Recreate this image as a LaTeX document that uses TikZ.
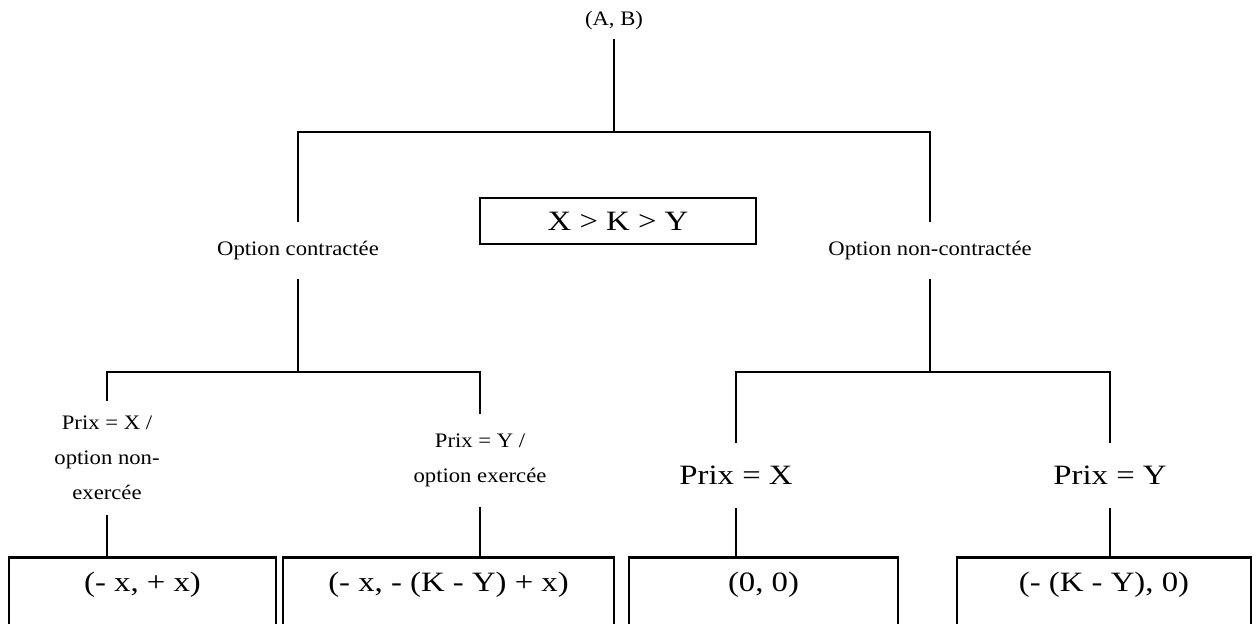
\documentclass[tikz,border=0pt]{standalone}
\usepackage{fontspec}
\setmainfont{Liberation Serif}
\newfontfamily\labelfont[FakeStretch=1.1]{Liberation Serif}
\newfontfamily\bigfont[FakeStretch=1.17]{Liberation Serif}
\begin{document}
\begin{tikzpicture}[x=0.5pt,y=-0.5pt,
  branch/.style={line width=1pt},
  lbl/.style={inner sep=0pt, font=\labelfont\fontsize{10.3}{17.5}\selectfont, align=center},
  biglbl/.style={inner sep=0pt, font=\bigfont\fontsize{14}{16}\selectfont},
  condbox/.style={draw, line width=1.2pt, inner sep=0pt, minimum width=138pt, minimum height=23pt,
    font=\bigfont\fontsize{14}{16}\selectfont},
  payoff/.style={draw, line width=1.3pt, anchor=north, inner xsep=0pt, inner ysep=0pt,
    text height=17pt, text depth=40pt, font=\bigfont\fontsize{14}{16}\selectfont},
]
\useasboundingbox (0,0) rectangle (1256,623);

% labels of the tree
\node[lbl, minimum height=18pt] (ab) at (614,21) {(A, B)};
\node[lbl, minimum height=28.5pt] (oc) at (298,250.5) {Option contractée};
\node[lbl, minimum height=28.5pt] (onc) at (930,250.5) {Option non-contractée};
\node[condbox] (cond) at (618,221) {X > K > Y};
\node[lbl, minimum height=57pt] (p1) at (107,458) {Prix = X /\\option non-\\exercée};
\node[lbl, minimum height=46.5pt] (p2) at (480,460.5) {Prix = Y /\\option exercée};
\node[biglbl, minimum height=32.5pt] (p3) at (736,475.5) {Prix = X};
\node[biglbl, minimum height=32.5pt] (p4) at (1110,475.5) {Prix = Y};

% payoff boxes, open at the bottom edge
\node[payoff, minimum width=133.5pt] (b1) at (142.5,556) {(- x, + x)};
\node[payoff, minimum width=165.5pt] (b2) at (448.5,556) {(- x, - (K - Y) + x)};
\node[payoff, minimum width=134.5pt] (b3) at (763.5,556) {(0, 0)};
\node[payoff, minimum width=147pt] (b4) at (1104,556) {(- (K - Y), 0)};

% junctions
\coordinate (top) at (614,132);
\coordinate (lj) at (298,372);
\coordinate (rj) at (930,372);

% branches
\draw[branch] (ab.south) -- (top);
\draw[branch] (oc.north) |- (top) -| (onc.north);
\draw[branch] (oc.south) -- (lj);
\draw[branch] (p1.north) |- (lj) -| (p2.north);
\draw[branch] (onc.south) -- (rj);
\draw[branch] (p3.north) |- (rj) -| (p4.north);
\draw[branch] (p1.south) -- (p1.south |- b1.north);
\draw[branch] (p2.south) -- (p2.south |- b2.north);
\draw[branch] (p3.south) -- (p3.south |- b3.north);
\draw[branch] (p4.south) -- (p4.south |- b4.north);
\end{tikzpicture}
\end{document}
